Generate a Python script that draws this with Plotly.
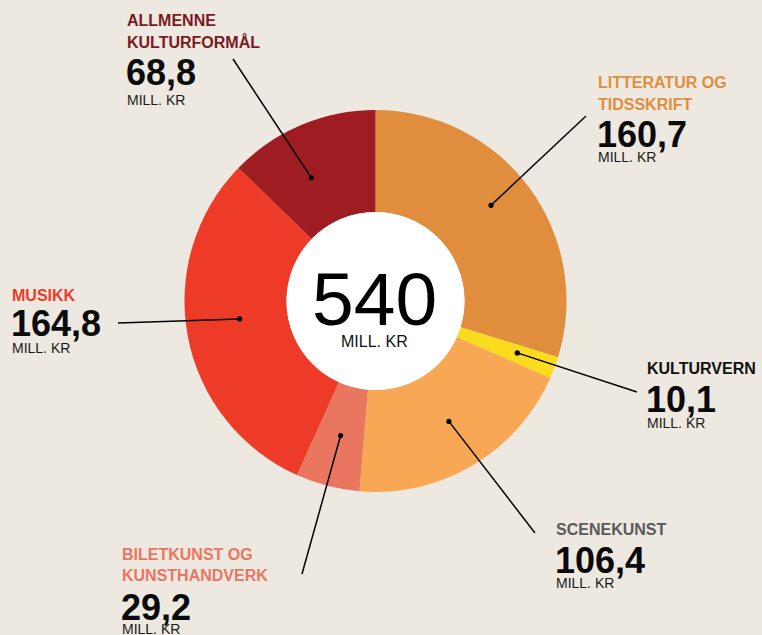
import math
import plotly.graph_objects as go

# ---- data ----
categories = ["LITTERATUR OG TIDSSKRIFT", "KULTURVERN", "SCENEKUNST",
              "BILETKUNST OG KUNSTHANDVERK", "MUSIKK", "ALLMENNE KULTURFORMÅL"]
values = [160.7, 10.1, 106.4, 29.2, 164.8, 68.8]
unit_label = "MILL. KR"
total_label = "540"

# ---- style ----
slice_colors = ["#E08E3E", "#FADB1E", "#F8A855", "#E9775F", "#EE3B28", "#9F1D22"]
name_colors = ["#E08E3E", "#111111", "#5A5A5A", "#EA7660", "#EE3B28", "#7B1A24"]
BG = "#EDE8E0"
FONT = "Liberation Sans, Arial, sans-serif"

W, H = 762, 635
CX, CY, R = 375.5, 301.0, 191.0
R_HOLE = 89.0
DX = -2  # annotation text inset correction

# label layout per category: name lines, left x, y (cap centres) for name lines, value, unit;
# leader line: end point at label, fraction within slice and radius for the anchor
label_layout = [
    dict(lines=["LITTERATUR OG", "TIDSSKRIFT"], x=598, ys=[82.7, 104.7], yv=134.2, yu=156.7,
         end=(586, 116), frac=0.47, r=150),
    dict(lines=["KULTURVERN"], x=646.5, ys=[368.8], yv=399.5, yu=423.3,
         end=(637, 392), frac=0.44, r=151),
    dict(lines=["SCENEKUNST"], x=556, ys=[529.2], yv=560.0, yu=582.8,
         end=(535, 533), frac=0.49, r=141),
    dict(lines=["BILETKUNST OG", "KUNSTHANDVERK"], x=122.3, ys=[554.2, 575.8], yv=607.5, yu=629,
         end=(302, 574), frac=0.50, r=139),
    dict(lines=["MUSIKK"], x=11.5, ys=[295.5], yv=323.7, yu=348.0,
         end=(118, 323), frac=0.53, r=137),
    dict(lines=["ALLMENNE", "KULTURFORMÅL"], x=127, ys=[20.8, 42.3], yv=72.5, yu=100.3,
         end=(233, 59), frac=0.40, r=139),
]

fig = go.Figure()

fig.add_trace(go.Pie(
    labels=categories, values=values, sort=False, direction="clockwise", rotation=0,
    hole=R_HOLE / R, textinfo="none", hoverinfo="label+value",
    marker=dict(colors=slice_colors, line=dict(width=0)),
    domain=dict(x=[(CX - R) / W, (CX + R) / W], y=[1 - (CY + R) / H, 1 - (CY - R) / H]),
    showlegend=False,
))

shapes = [dict(type="circle", xref="x", yref="y", x0=CX - R_HOLE, x1=CX + R_HOLE,
               y0=CY - R_HOLE, y1=CY + R_HOLE, fillcolor="white", line=dict(width=0),
               layer="above")]
annotations = []

total = sum(values)
start = 0.0
for cat, val, lay, ncol in zip(categories, values, label_layout, name_colors):
    span = val / total * 360.0
    ang = math.radians(start + lay["frac"] * span)
    start += span
    ax = CX + lay["r"] * math.sin(ang)
    ay = CY - lay["r"] * math.cos(ang)
    ex, ey = lay["end"]
    shapes.append(dict(type="line", xref="x", yref="y", x0=ax, y0=ay, x1=ex, y1=ey,
                       line=dict(color="#000000", width=1.5), layer="above"))
    shapes.append(dict(type="circle", xref="x", yref="y", x0=ax - 2.6, x1=ax + 2.6,
                       y0=ay - 2.6, y1=ay + 2.6, fillcolor="#000000",
                       line=dict(width=0), layer="above"))
    x = lay["x"] + DX
    for line, y in zip(lay["lines"], lay["ys"]):
        annotations.append(dict(text=f"<b>{line}</b>", x=x, y=y, xref="x", yref="y",
                                xanchor="left", yanchor="middle", showarrow=False,
                                font=dict(family=FONT, size=16, color=ncol)))
    annotations.append(dict(text=f"<b>{val:.1f}</b>".replace(".", ","), x=x - 1,
                            y=lay["yv"], xref="x", yref="y", xanchor="left",
                            yanchor="middle", showarrow=False,
                            font=dict(family=FONT, size=36, color="#0A0A0A")))
    annotations.append(dict(text=unit_label, x=x, y=lay["yu"], xref="x", yref="y",
                            xanchor="left", yanchor="middle", showarrow=False,
                            font=dict(family=FONT, size=14, color="#1A1A1A")))

annotations.append(dict(text=total_label, x=374, y=299.3, xref="x", yref="y",
                        xanchor="center", yanchor="middle", showarrow=False,
                        font=dict(family=FONT, size=75, color="#000000")))
annotations.append(dict(text=unit_label, x=374, y=341, xref="x", yref="y",
                        xanchor="center", yanchor="middle", showarrow=False,
                        font=dict(family=FONT, size=16, color="#111111")))

fig.update_layout(
    width=W, height=H, margin=dict(l=0, r=0, t=0, b=0),
    paper_bgcolor=BG, plot_bgcolor="rgba(0,0,0,0)",
    xaxis=dict(range=[0, W], visible=False, fixedrange=True, domain=[0, 1]),
    yaxis=dict(range=[H, 0], visible=False, fixedrange=True, domain=[0, 1]),
    shapes=shapes, annotations=annotations, showlegend=False,
)

fig.write_html("out.html", include_plotlyjs=True, config={"displayModeBar": False},
               post_script="document.body.style.margin='0';document.body.style.overflow='hidden';")
